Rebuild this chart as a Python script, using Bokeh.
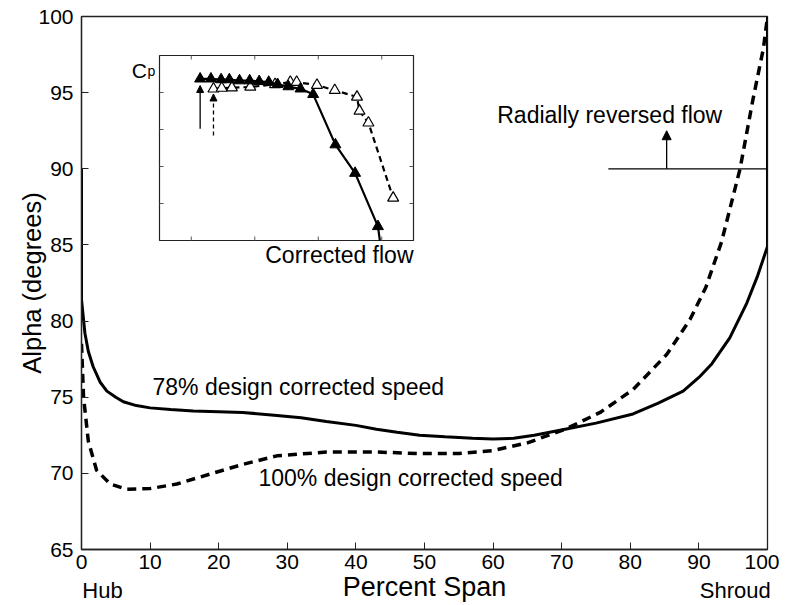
from bokeh.plotting import figure
from bokeh.models import Range1d, Arrow, NormalHead, FixedTicker, LinearAxis
from bokeh.core.properties import value
from bokeh.embed import file_html
from bokeh.resources import INLINE

# ---- main chart data (Percent Span vs Alpha in degrees) ----
span_78 = [0, 0, 0.5, 1.0, 1.7, 2.7, 3.7, 5, 6.1, 8, 10, 13, 16.3, 20, 23.5, 28.5, 32, 35.7,
           40, 43, 46, 49.3, 53, 57, 60, 63, 66, 70.5, 75, 80.4, 84, 87.7, 90, 91.9, 94.5,
           97, 98.5, 100, 100]
alpha_78 = [90, 81.4, 79.2, 78.0, 77.0, 76.0, 75.4, 75.0, 74.7, 74.45, 74.3, 74.2, 74.1, 74.05,
            74.0, 73.8, 73.65, 73.4, 73.15, 72.9, 72.7, 72.5, 72.4, 72.3, 72.25, 72.3, 72.5,
            72.9, 73.3, 73.9, 74.6, 75.4, 76.3, 77.2, 78.9, 81.2, 82.9, 84.9, 100]

span_100 = [0, 0.3, 1.0, 2.2, 4.2, 6.6, 10, 13.9, 18.7, 23.6, 28.5, 35.7, 43, 49.3, 55, 60, 65,
            70.5, 75.6, 80.4, 85.3, 88.7, 91, 93.3, 96.0, 97.9, 99.4, 100]
alpha_100 = [78.5, 75.0, 72.1, 70.2, 69.3, 68.96, 69.0, 69.3, 69.95, 70.6, 71.15, 71.4, 71.4,
             71.3, 71.3, 71.5, 72.0, 72.9, 74.0, 75.5, 77.8, 80.1, 82.2, 85.2, 90.0, 94.6, 97.9, 100]

x_ticks = [0, 10, 20, 30, 40, 50, 60, 70, 80, 90, 100]
y_ticks = [65, 70, 75, 80, 85, 90, 95, 100]
end_labels = {3.06: "Hub", 95.3: "Shroud"}

reversed_level = 90          # radially reversed flow boundary
reversed_span = [76.8, 100]
reversed_arrow_x = 85.3
reversed_arrow_top = 92.5

# ---- inset data (Cp vs corrected flow, arbitrary units) ----
inset_filled_x = [0.64, 0.81, 0.97, 1.10, 1.26, 1.42, 1.57, 1.72, 1.86, 2.03, 2.22, 2.42, 2.77, 3.08, 3.44]
inset_filled_y = [4.37, 4.37, 4.35, 4.35, 4.32, 4.32, 4.30, 4.28, 4.22, 4.16, 4.10, 3.95, 2.59, 1.82, 0.38]
inset_filled_line_x = inset_filled_x + [3.47]
inset_filled_line_y = inset_filled_y + [0.0]
inset_open_x = [0.85, 0.98, 1.14, 1.43, 1.82, 2.06, 2.16, 2.48, 2.76, 3.11, 3.15, 3.29, 3.68]
inset_open_y = [4.10, 4.12, 4.13, 4.15, 4.22, 4.28, 4.28, 4.20, 4.06, 3.88, 3.50, 3.18, 1.15]
inset_xticks = [0.5, 1.5, 2.5, 3.5]
inset_yticks = [1, 2, 3, 4]
inset_arrow_solid = (0.64, 3.02, 4.19)
inset_arrow_dashed = (0.85, 2.84, 3.96)

# ---- layout constants (page pixels) ----
FRAME_L, FRAME_T, FRAME_R, FRAME_B = 81, 16, 767, 549
INS_L, INS_T, INS_R, INS_B = 159, 55, 413, 240
INS_XMAX, INS_YMAX = 4.0, 5.0

FONT = "Liberation Sans"

p = figure(frame_width=FRAME_R - FRAME_L, frame_height=FRAME_B - FRAME_T,
           x_range=Range1d(0, 100), y_range=Range1d(65, 100),
           output_backend="svg", toolbar_location=None,
           min_border_top=FRAME_T, min_border_left=FRAME_L,
           min_border_right=12, min_border_bottom=56)
p.background_fill_color = "white"
p.border_fill_color = "white"
p.outline_line_color = "#222222"
p.outline_line_width = 1.3
p.xgrid.visible = False
p.ygrid.visible = False

for ax in (p.xaxis[0], p.yaxis[0]):
    ax.major_tick_in = 7
    ax.major_tick_out = 0
    ax.minor_tick_line_color = None
    ax.axis_line_color = "#222222"
    ax.axis_line_width = 1.3
    ax.major_tick_line_color = "#222222"
    ax.major_label_text_font = FONT
    ax.major_label_text_font_size = "21px"
    ax.major_label_text_color = "black"
    ax.axis_label_text_font = FONT
    ax.axis_label_text_font_style = "normal"
    ax.axis_label_text_color = "black"

p.xaxis.ticker = FixedTicker(ticks=x_ticks)
p.yaxis.ticker = FixedTicker(ticks=y_ticks)
p.xaxis.major_label_standoff = 5
p.yaxis.major_label_standoff = 8
p.yaxis.axis_label = "Alpha (degrees)"
p.yaxis.axis_label_text_font_size = "25.5px"
p.yaxis.axis_label_standoff = -11
p.xaxis.axis_label = "Percent Span"
p.xaxis.axis_label_text_font_size = "27px"
p.xaxis.axis_label_standoff = 0

# Hub / Shroud at the two ends of the span, on the same row as the axis title
under = LinearAxis(ticker=FixedTicker(ticks=list(end_labels.keys())),
                   major_label_overrides={k: v for k, v in end_labels.items()})
under.axis_line_color = None
under.major_tick_line_color = None
under.minor_tick_line_color = None
under.major_label_text_font = FONT
under.major_label_text_font_size = "22px"
under.major_label_text_color = "black"
under.major_label_standoff = -33
p.add_layout(under, "below")

# main curves
p.line(span_100, alpha_100, line_color="black", line_width=3.5, line_dash="9 6")
p.line(span_78, alpha_78, line_color="black", line_width=3)

# radially reversed flow marker
p.line(reversed_span, [reversed_level, reversed_level], line_color="black", line_width=1.3)
p.add_layout(Arrow(end=NormalHead(size=9, fill_color="black", line_color="black"),
                   x_start=reversed_arrow_x, y_start=reversed_level,
                   x_end=reversed_arrow_x, y_end=reversed_arrow_top,
                   line_color="black", line_width=1.3))

p.text(x=[77.0], y=[93.5], text=["Radially reversed flow"],
       text_font=value(FONT), text_font_size="23px", text_align="center",
       text_baseline="alphabetic", text_color="black")
p.text(x=[10.35], y=[75.7], text=["78% design corrected speed"],
       text_font=value(FONT), text_font_size="23px", text_align="left",
       text_baseline="alphabetic", text_color="black")
p.text(x=[25.8], y=[69.68], text=["100% design corrected speed"],
       text_font=value(FONT), text_font_size="23px", text_align="left",
       text_baseline="alphabetic", text_color="black")

# ---- inset via extra ranges ----
pxx = (INS_R - INS_L) / INS_XMAX
pxy = (INS_B - INS_T) / INS_YMAX
p.extra_x_ranges = {"ix": Range1d(-(INS_L - FRAME_L) / pxx, INS_XMAX + (FRAME_R - INS_R) / pxx)}
p.extra_y_ranges = {"iy": Range1d(-(FRAME_B - INS_B) / pxy, INS_YMAX + (INS_T - FRAME_T) / pxy)}
kw = dict(x_range_name="ix", y_range_name="iy")

p.quad(left=[0], right=[INS_XMAX], bottom=[0], top=[INS_YMAX], fill_color="white",
       line_color="#222222", line_width=1.2, **kw)
tlx = 4 / pxy
tly = 4 / pxx
p.segment(x0=inset_xticks, y0=[0] * 4, x1=inset_xticks, y1=[tlx] * 4, line_color="#555555", line_width=1, **kw)
p.segment(x0=inset_xticks, y0=[INS_YMAX] * 4, x1=inset_xticks, y1=[INS_YMAX - tlx] * 4, line_color="#555555", line_width=1, **kw)
p.segment(x0=[0] * 4, y0=inset_yticks, x1=[tly] * 4, y1=inset_yticks, line_color="#555555", line_width=1, **kw)
p.segment(x0=[INS_XMAX] * 4, y0=inset_yticks, x1=[INS_XMAX - tly] * 4, y1=inset_yticks, line_color="#555555", line_width=1, **kw)

p.line(inset_open_x, inset_open_y, line_color="black", line_width=2.2, line_dash="6 4", **kw)
p.scatter(inset_open_x, inset_open_y, marker="triangle", size=11, fill_color="white",
          line_color="black", line_width=1.2, **kw)
p.line(inset_filled_line_x, inset_filled_line_y, line_color="black", line_width=2.2, **kw)
p.scatter(inset_filled_x, inset_filled_y, marker="triangle", size=11, fill_color="black",
          line_color="black", **kw)

p.add_layout(Arrow(end=NormalHead(size=7, fill_color="black", line_color="black"),
                   x_start=inset_arrow_solid[0], y_start=inset_arrow_solid[1],
                   x_end=inset_arrow_solid[0], y_end=inset_arrow_solid[2],
                   line_color="black", line_width=1.3, **kw))
p.add_layout(Arrow(end=NormalHead(size=7, fill_color="black", line_color="black"),
                   x_start=inset_arrow_dashed[0], y_start=inset_arrow_dashed[1],
                   x_end=inset_arrow_dashed[0], y_end=inset_arrow_dashed[2],
                   line_color="black", line_width=1.3, line_dash="4 3", **kw))

p.text(x=[-0.2], y=[4.6], text=["C"], text_font=value(FONT), text_font_size="21px",
       text_align="right", text_baseline="alphabetic", text_color="black", **kw)
p.text(x=[-0.19], y=[4.57], text=["p"], text_font=value(FONT), text_font_size="14px",
       text_align="left", text_baseline="alphabetic", text_color="black", **kw)
p.text(x=[INS_XMAX], y=[-0.4], text=["Corrected flow"], text_font=value(FONT),
       text_font_size="23px", text_align="right", text_baseline="alphabetic",
       text_color="black", **kw)

open("out.html", "w").write(file_html(p, INLINE))
